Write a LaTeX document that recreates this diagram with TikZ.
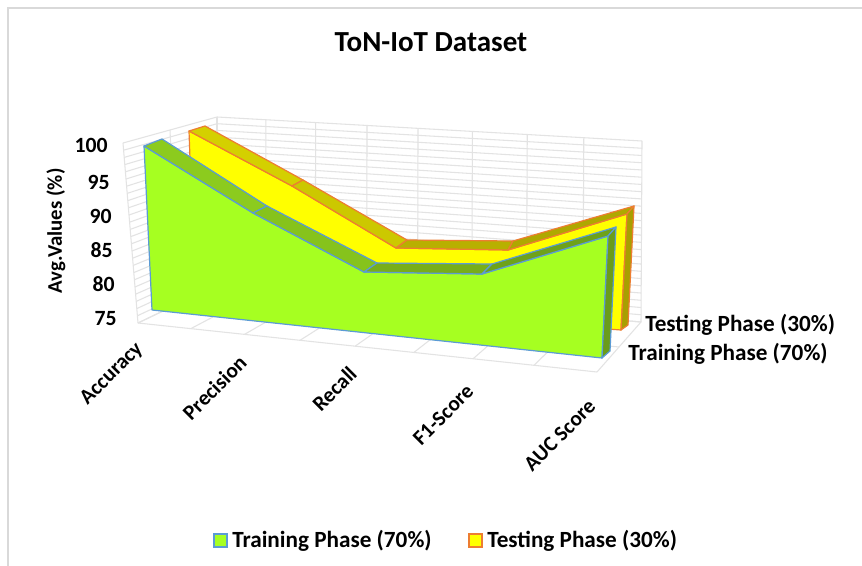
\documentclass[tikz,border=0pt]{standalone}
\usepackage{fontspec}
\setmainfont{Carlito}
\usetikzlibrary{calc}
\definecolor{gridc}{HTML}{E3E3E3}
\definecolor{framec}{HTML}{D9D9D9}
\definecolor{gfront}{HTML}{A6FF21}
\definecolor{gtopa}{HTML}{8CCB1E}
\definecolor{gtopb}{HTML}{86C31C}
\definecolor{gtopc}{HTML}{78AE1A}
\definecolor{gtopd}{HTML}{6EA21A}
\definecolor{gside}{HTML}{6A9C1A}
\definecolor{yfront}{HTML}{FFFF00}
\definecolor{ytopa}{HTML}{D4D000}
\definecolor{ytopb}{HTML}{CCC800}
\definecolor{ytopc}{HTML}{B8B000}
\definecolor{ytopd}{HTML}{AFA800}
\definecolor{yside}{HTML}{A8A000}
\definecolor{blueedge}{HTML}{5B9BD5}
\definecolor{orangeedge}{HTML}{ED7D31}
\tikzset{
  gridline/.style={draw=gridc, line width=0.8pt},
  gface/.style={draw=blueedge, line width=0.9pt, line join=round},
  yface/.style={draw=orangeedge, line width=0.9pt, line join=round},
  ticklab/.style={font=\fontsize{16.3}{18}\selectfont\bfseries, inner sep=0pt, anchor=east},
  catlab/.style={font=\fontsize{16}{18}\selectfont\bfseries, inner sep=0pt, anchor=east, rotate=45},
  serlab/.style={font=\fontsize{17.4}{20}\selectfont\bfseries, inner sep=0pt, anchor=west},
  leglab/.style={font=\fontsize{17.4}{20}\selectfont\bfseries, inner sep=0pt, anchor=west},
}
\begin{document}
\begin{tikzpicture}[x=0.75pt, y=-0.75pt]
\useasboundingbox (0,0) rectangle (862,566);
\fill[white] (0,0) rectangle (862,566);
% frame
\draw[framec, line width=1.5pt] (8,566) -- (8,8) -- (862,8);
% walls corners
\coordinate (wA) at (123,143);
\coordinate (wB) at (138,323);
\coordinate (wC) at (217,117);
\coordinate (wD) at (217,285);
\coordinate (wE) at (641,322);
\coordinate (wF) at (642,141);
\coordinate (wG) at (597,372);
% left wall and back wall horizontals
\foreach \i in {0,...,25}{
  \pgfmathsetmacro\ss{\i/25}
  \draw[gridline] ($(wA)!\ss!(wB)$) -- ($(wC)!\ss!(wD)$);
  \draw[gridline] ($(wC)!\ss!(wD)$) -- ($(wF)!\ss!(wE)$);
}
% left wall depth lines and floor lateral lines
\foreach \dd in {0,0.5,1}{
  \draw[gridline] ($(wA)!\dd!(wC)$) -- ($(wB)!\dd!(wD)$);
  \draw[gridline] ($(wB)!\dd!(wD)$) -- ($(wG)!\dd!(wE)$);
}
% back wall verticals and floor depth lines
\foreach \ff in {0,0.115,0.232,0.353,0.473,0.601,0.730,0.863,1}{
  \draw[gridline] ($(wC)!\ff!(wF)$) -- ($(wD)!\ff!(wE)$);
  \draw[gridline] ($(wB)!\ff!(wG)$) -- ($(wD)!\ff!(wE)$);
}
% ---------- Testing series (yellow) ----------
\coordinate (y1) at (189,131); \coordinate (y1b) at (205,126);
\coordinate (y2) at (292,186); \coordinate (y2b) at (303,180);
\coordinate (y3) at (396,248); \coordinate (y3b) at (407,240);
\coordinate (y4) at (508,250); \coordinate (y4b) at (513,241);
\coordinate (y5) at (627,214); \coordinate (y5b) at (634,206);
\coordinate (y5f) at (621,330); \coordinate (y5fb) at (628,325);
\coordinate (y1f) at (195,298);
\filldraw[yface, fill=yfront] (y1) -- (y2) -- (y3) -- (y4) -- (y5) -- (y5f) -- (y1f) -- cycle;
\filldraw[yface, fill=ytopa] (y1) -- (y1b) -- (y2b) -- (y2) -- cycle;
\filldraw[yface, fill=ytopb] (y2) -- (y2b) -- (y3b) -- (y3) -- cycle;
\filldraw[yface, fill=ytopc] (y3) -- (y3b) -- (y4b) -- (y4) -- cycle;
\filldraw[yface, fill=ytopd] (y4) -- (y4b) -- (y5b) -- (y5) -- cycle;
\filldraw[yface, fill=yside] (y5) -- (y5b) -- (y5fb) -- (y5f) -- cycle;
% ---------- Training series (green) ----------
\coordinate (g1) at (144,146); \coordinate (g1b) at (162,139);
\coordinate (g2) at (253,213); \coordinate (g2b) at (267,206);
\coordinate (g3) at (364,272); \coordinate (g3b) at (377,263);
\coordinate (g4) at (482,274); \coordinate (g4b) at (492,264);
\coordinate (g5) at (608,236); \coordinate (g5b) at (616,227);
\coordinate (g5f) at (602,358); \coordinate (g5fb) at (610,351);
\coordinate (g1f) at (152,310);
\filldraw[gface, fill=gfront] (g1) -- (g2) -- (g3) -- (g4) -- (g5) -- (g5f) -- (g1f) -- cycle;
\filldraw[gface, fill=gtopa] (g1) -- (g1b) -- (g2b) -- (g2) -- cycle;
\filldraw[gface, fill=gtopb] (g2) -- (g2b) -- (g3b) -- (g3) -- cycle;
\filldraw[gface, fill=gtopc] (g3) -- (g3b) -- (g4b) -- (g4) -- cycle;
\filldraw[gface, fill=gtopd] (g4) -- (g4b) -- (g5b) -- (g5) -- cycle;
\filldraw[gface, fill=gside] (g5) -- (g5b) -- (g5fb) -- (g5f) -- cycle;
% ---------- texts ----------
\node[font=\fontsize{21.8}{25}\selectfont\bfseries, inner sep=0pt] (title) at (431,42) {ToN-IoT Dataset};
\node[font=\fontsize{15.6}{18}\selectfont\bfseries, inner sep=0pt, rotate=90] (ytitle) at (56,231) {Avg.Values (\%)};
\node[ticklab] (t100) at (108,145) {100};
\node[ticklab] (t95) at (110,182) {95};
\node[ticklab] (t90) at (112,216) {90};
\node[ticklab] (t85) at (113,250) {85};
\node[ticklab] (t80) at (115,284) {80};
\node[ticklab] (t75) at (117,319) {75};
\node[catlab] (cAcc) at (140,346) {Accuracy};
\node[catlab] (cPre) at (243,359) {Precision};
\node[catlab] (cRec) at (353,370) {Recall};
\node[catlab] (cF1) at (470,388) {F1-Score};
\node[catlab] (cAUC) at (592,403) {AUC Score};
\node[serlab] (sTest) at (645,325) {Testing Phase (30\%)};
\node[serlab] (sTrain) at (628,354) {Training Phase (70\%)};
% legend
\filldraw[draw=blueedge, fill=gfront, line width=1.2pt] (214,534) rectangle (227,547);
\node[leglab] (lTrain) at (232,541) {Training Phase (70\%)};
\filldraw[draw=orangeedge, fill=yfront, line width=1.2pt] (469,534) rectangle (482,547);
\node[leglab] (lTest) at (487,541) {Testing Phase (30\%)};
\end{tikzpicture}
\end{document}
